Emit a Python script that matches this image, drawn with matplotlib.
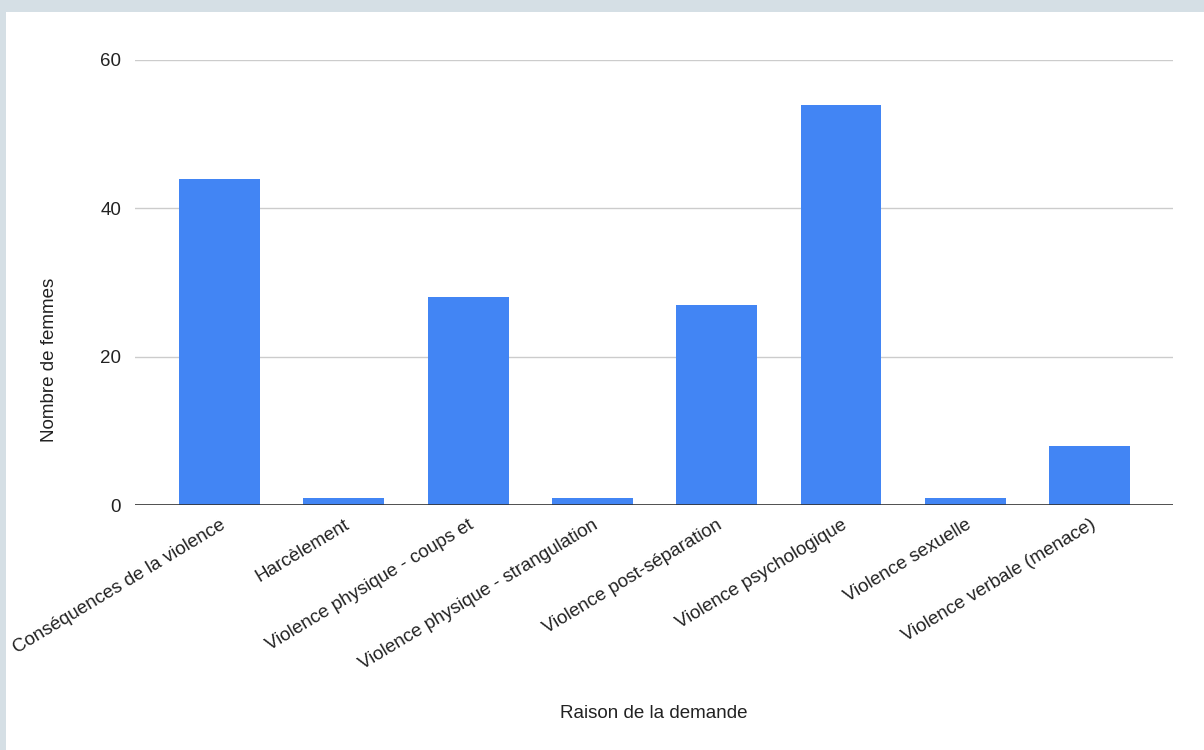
import matplotlib.pyplot as plt
from matplotlib.patches import Rectangle

# Data
categories = [
    "Conséquences de la violence",
    "Harcèlement",
    "Violence physique - coups et",
    "Violence physique - strangulation",
    "Violence post-séparation",
    "Violence psychologique",
    "Violence sexuelle",
    "Violence verbale (menace)",
]
values = [44, 1, 28, 1, 27, 54, 1, 8]
y_ticks = [0, 20, 40, 60]

BAR_COLOR = "#4285f4"
FS = 13.5

plt.rcParams['font.family'] = ['Liberation Sans', 'DejaVu Sans']

fig = plt.figure(figsize=(12.04, 7.5), dpi=100, facecolor="#d5dfe5")
# white panel inside the grey-blue frame
panel = Rectangle((6 / 1204, 0), 1 - 6 / 1204, 738 / 750,
                  transform=fig.transFigure, facecolor="white",
                  edgecolor="none", zorder=-10)
fig.add_artist(panel)

ax = fig.add_axes([135 / 1204, 1 - 505 / 750, 1038 / 1204, 445 / 750])
ax.set_facecolor("white")

x = list(range(len(categories)))
ax.bar(x, values, width=0.65, color=BAR_COLOR, zorder=3)

ax.set_xlim(-0.68, len(categories) - 1 + 0.67)
ax.set_ylim(0, 60)
ax.set_yticks(y_ticks)
ax.set_yticklabels([str(t) for t in y_ticks], fontsize=FS, color="#222222")
ax.yaxis.grid(True, color="#cccccc", linewidth=1, zorder=0)
ax.set_axisbelow(True)
ax.axhline(0, color="#333333", linewidth=1.2, zorder=4)

ax.set_xticks(x)
ax.set_xticklabels(categories, rotation=31, ha="right", rotation_mode="anchor",
                   fontsize=FS, color="#222222")
ax.tick_params(axis="both", length=0)
ax.tick_params(axis="x", pad=8)
ax.tick_params(axis="y", pad=10)

for side in ["top", "right", "left", "bottom"]:
    ax.spines[side].set_visible(False)

ax.set_ylabel("Nombre de femmes", fontsize=FS, color="#222222")
ax.yaxis.set_label_coords(-0.074, 0.326)
ax.set_xlabel("Raison de la demande", fontsize=FS, color="#222222")
ax.xaxis.set_label_coords(0.5, -0.45)

fig.savefig("out.png", dpi=100, facecolor=fig.get_facecolor())
